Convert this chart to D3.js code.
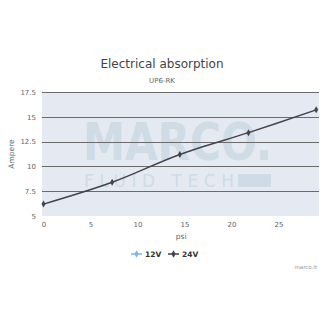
<!DOCTYPE html>
<html>
<head>
<meta charset="utf-8">
<script src="https://cdn.jsdelivr.net/npm/d3@7"></script>
<style>
body { margin: 0; background: #fff; }
svg { font-family: "DejaVu Sans", sans-serif; }
</style>
</head>
<body>
<script>
const WIDTH = 325;
const HEIGHT = 325;
const MARGIN = {top: 92, right: 6, bottom: 109, left: 42};

var seriesNames = ['12V', '24V'];
var seriesColors = ['#7cb5ec', '#434348'];
var psi = [0, 7.3, 14.5, 21.8, 29];
var amp24 = [6.2, 8.4, 11.2, 13.4, 15.7];
var yTicks = [5, 7.5, 10, 12.5, 15, 17.5];
var xTicks = [0, 5, 10, 15, 20, 25];

var svg = d3.select('body').append('svg')
	.attr('width', WIDTH)
	.attr('height', HEIGHT);

var xScale = d3.scaleLinear()
	.domain([0, 29.3])
	.range([MARGIN.left + 1.5, WIDTH - MARGIN.right]);

var yScale = d3.scaleLinear()
	.domain([5, 17.5])
	.range([HEIGHT - MARGIN.bottom, MARGIN.top]);

// plot background
svg.append('rect')
	.attr('x', MARGIN.left)
	.attr('y', MARGIN.top)
	.attr('width', WIDTH - MARGIN.right - MARGIN.left)
	.attr('height', HEIGHT - MARGIN.bottom - MARGIN.top)
	.style('fill', '#e5eaf2');

// watermark
var wm = svg.append('g').style('fill', '#cfdbe5');
wm.append('text')
	.attr('x', 83).attr('y', 160)
	.attr('textLength', 189)
	.attr('lengthAdjust', 'spacingAndGlyphs')
	.style('font-family', 'DejaVu Sans')
	.style('font-weight', 'bold')
	.style('font-size', '52px')
	.text('MARCO.');
wm.append('text')
	.attr('x', 84).attr('y', 187)
	.attr('textLength', 150)
	.attr('lengthAdjust', 'spacing')
	.style('font-size', '17px')
	.text('FLUID TECH');
wm.append('rect')
	.attr('x', 238).attr('y', 174)
	.attr('width', 33).attr('height', 13);

// grid lines
svg.append('g')
	.selectAll('line')
	.data(yTicks.slice(1))
	.enter().append('line')
	.attr('x1', MARGIN.left)
	.attr('x2', WIDTH - MARGIN.right)
	.attr('y1', function(d) { return Math.round(yScale(d)) + 0.5; })
	.attr('y2', function(d) { return Math.round(yScale(d)) + 0.5; })
	.style('stroke', '#6b6b6b')
	.style('stroke-width', 1.2);

var yAxis = d3.axisLeft(yScale).tickValues(yTicks).tickSize(0).tickPadding(6)
	.tickFormat(function(d) { return d; });
var xAxis = d3.axisBottom(xScale).tickValues(xTicks).tickSize(0).tickPadding(6);

var gy = svg.append('g')
	.attr('transform', 'translate(' + MARGIN.left + ',0)')
	.call(yAxis);
var gx = svg.append('g')
	.attr('transform', 'translate(0,' + (HEIGHT - MARGIN.bottom) + ')')
	.call(xAxis);
[gx, gy].forEach(function(g) {
	g.select('.domain').remove();
	g.selectAll('text').attr('fill', '#666').style('font-size', '7px').style('font-family', 'DejaVu Sans');
});

// axis titles
svg.append('text')
	.attr('transform', 'translate(14,' + yScale(11.25) + ') rotate(-90)')
	.attr('text-anchor', 'middle')
	.style('font-size', '7.5px').style('fill', '#666')
	.text('Ampere');
svg.append('text')
	.attr('x', (xScale.range()[0] + xScale.range()[1]) / 2)
	.attr('y', 239)
	.attr('text-anchor', 'middle')
	.style('font-size', '7.5px').style('fill', '#666')
	.text('psi');

// title
svg.append('text')
	.attr('x', 162).attr('y', 68)
	.attr('text-anchor', 'middle')
	.style('font-size', '12px').style('fill', '#444')
	.text('Electrical absorption');
svg.append('text')
	.attr('x', 162).attr('y', 83)
	.attr('text-anchor', 'middle')
	.style('font-size', '7px').style('fill', '#666')
	.text('UP6-RK');

// series
var data24 = psi.map(function(d, i) { return [d, amp24[i]]; });
var line = d3.line()
	.x(function(d) { return xScale(d[0]); })
	.y(function(d) { return yScale(d[1]); })
	.curve(d3.curveCatmullRom.alpha(0.5));

svg.append('path')
	.datum(data24)
	.attr('d', line)
	.style('fill', 'none')
	.style('stroke', seriesColors[1])
	.style('stroke-width', 1.4);

svg.append('g')
	.selectAll('path')
	.data(data24)
	.enter().append('path')
	.attr('transform', function(d) { return 'translate(' + xScale(d[0]) + ',' + yScale(d[1]) + ')'; })
	.attr('d', d3.symbol().type(d3.symbolDiamond).size(14))
	.style('fill', seriesColors[1]);

// legend
var legend = svg.append('g');
var lx = [131, 168];
seriesNames.forEach(function(name, i) {
	var g = legend.append('g').attr('transform', 'translate(' + lx[i] + ',254)');
	g.append('line').attr('x1', 0).attr('x2', 11).attr('y1', 0).attr('y2', 0)
		.style('stroke', seriesColors[i]).style('stroke-width', 1.5);
	g.append('path').attr('transform', 'translate(5.5,0)')
		.attr('d', d3.symbol().type(d3.symbolDiamond).size(16))
		.style('fill', seriesColors[i]);
	g.append('text').attr('x', 14).attr('y', 3)
		.style('font-size', '7.5px').style('font-weight', 'bold').style('fill', '#333')
		.text(name);
});

svg.append('text')
	.attr('x', 317).attr('y', 269)
	.attr('text-anchor', 'end')
	.style('font-size', '5.5px').style('fill', '#999')
	.text('marco.it');
</script>
</body>
</html>
